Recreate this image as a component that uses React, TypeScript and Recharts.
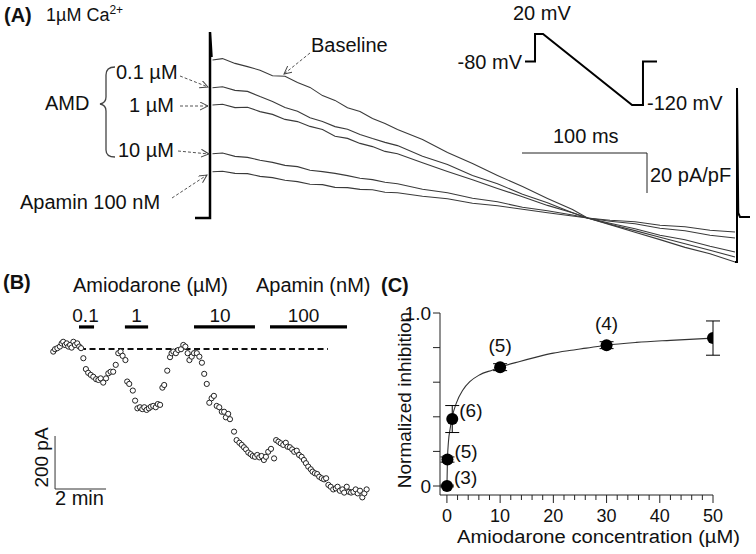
import React from 'react';
import { LineChart, Line, XAxis, YAxis, ReferenceLine, ScatterChart, Scatter, ComposedChart, ErrorBar } from 'recharts';

const FONT = '"Liberation Sans", Arial, Helvetica, sans-serif';

// ---------- Panel A: ramp currents (pA/pF) vs time (ms)
const TRACE_TIME_MS = [2, 10, 20, 30, 40, 50, 60, 70, 80, 90, 100, 110, 120, 130, 140, 150, 170, 190, 210, 230, 250, 270, 290, 302, 320, 340, 360, 380, 400, 420];
const BASELINE = [78.5, 79.2, 76.8, 75.2, 73.4, 70.6, 70.4, 67.2, 64.8, 60.7, 58.3, 54.6, 52.8, 49.2, 46.8, 43.7, 38.8, 32.2, 26.7, 20.8, 15.2, 9.3, 3.7, -0.5, -3.8, -7.6, -11.3, -15.2, -18.4, -22.5];
const AMD_01 = [64.6, 65.1, 63.3, 62.8, 60.2, 57.8, 54.7, 52.9, 49.6, 47.8, 45.2, 43.9, 41.3, 39.2, 37.3, 35.7, 30.4, 26.2, 20.8, 16.6, 11.4, 7.1, 2.1, -0.5, -3.6, -6.8, -10.1, -13.4, -16.6, -20];
const AMD_1 = [56, 56.4, 54.7, 54.9, 52.7, 51.3, 48.8, 47.7, 45.3, 43.8, 40.4, 39.3, 36.8, 35.2, 32.8, 31.6, 27.1, 22.8, 18.6, 14.3, 10.1, 5.8, 2.1, -0.5, -3.1, -5.9, -9.1, -11.4, -14.6, -17.5];
const AMD_10 = [31.6, 32, 30.3, 29.8, 28.4, 27.3, 25.8, 25.2, 23.4, 22.7, 21.8, 20.7, 19.4, 18.7, 17.4, 16.6, 13.9, 12.1, 9.4, 7.6, 4.9, 3.1, 1.0, -0.5, -2.1, -3.4, -5.6, -6.9, -9.1, -10.5];
const APAMIN = [22.6, 22.9, 21.8, 21.7, 20.3, 19.7, 18.4, 17.7, 16.4, 16.2, 14.8, 14.7, 13.8, 13.6, 12.4, 12.1, 10.4, 9.1, 6.9, 5.6, 3.9, 2.1, 0.5, -0.5, -1.6, -2.4, -4.1, -4.9, -6.6, -7.5];

// capacitive transients
const ON_SPIKE_T = [-12, 0, 0, 1.2];
const ON_SPIKE_I = [-0.5, -0.5, 92.5, 80];
const OFF_SPIKE_T = [420, 421.6, 421.6, 422.6, 424, 432];
const OFF_SPIKE_I = [-22.5, -22.5, 64.5, 2, 0, 0];

// scale bar (100 ms, 20 pA/pF)
const SCALE_A_T0 = 249.6;
const SCALE_A_I0 = 32;
const SCALE_A_MS = 100;
const SCALE_A_PAPF = 20;

// voltage protocol (schematic)
const PROTO_T = [0, 45, 45, 81, 481, 530, 530, 593];
const PROTO_MV = [-80, -80, 20, 20, -120, -120, -80, -80];

// ---------- Panel B: current (pA) vs time (min)
const B_TIME_MIN = [0.01, 0.08, 0.17, 0.27, 0.34, 0.40, 0.47, 0.54, 0.60, 0.67, 0.73, 0.80, 0.86, 0.95, 1.03, 1.10,
  1.19, 1.29, 1.38, 1.48, 1.58, 1.69, 1.78, 1.87, 1.97, 2.08, 2.17, 2.26, 2.36, 2.46, 2.56, 2.65, 2.73, 2.84,
  2.91, 2.99, 3.13, 3.22, 3.31, 3.41, 3.50, 3.58, 3.67, 3.76, 3.84, 3.93, 4.03, 4.11, 4.20,
  4.29, 4.36, 4.48, 4.59, 4.65, 4.72, 4.82, 4.91, 5.02, 5.11, 5.19, 5.28, 5.35, 5.44, 5.53, 5.64,
  5.74, 5.84, 5.93, 6.03, 6.13, 6.22, 6.31, 6.42, 6.52, 6.62, 6.71, 6.78, 6.87, 6.94, 7.10, 7.20, 7.31, 7.40, 7.49, 7.57, 7.66, 7.75, 7.83, 7.92, 8.01, 8.09, 8.18, 8.27, 8.35, 8.44, 8.55, 8.67,
  8.75, 8.84, 8.93, 9.03, 9.13, 9.20, 9.29, 9.38, 9.46, 9.56, 9.65, 9.75, 9.84, 9.92, 10.01, 10.11, 10.18, 10.27, 10.36, 10.44, 10.54, 10.63, 10.71, 10.80, 10.89, 10.99, 11.09, 11.16, 11.25, 11.35, 11.42, 11.52, 11.61, 11.69, 11.78, 11.87, 11.95, 12.04, 12.13, 12.21, 12.30];
const B_CURRENT_PA = [560, 569, 573, 579, 591, 597, 585, 591, 579, 585, 575, 597, 585, 591, 579, 573,
  535, 494, 480, 472, 465, 456, 453, 459, 443, 459, 478, 484, 484, 510, 554, 560, 544, 528,
  447, 438, 413, 375, 346, 350, 343, 350, 340, 346, 352, 355, 350, 362, 359,
  424, 434, 488, 539, 554, 560, 554, 566, 569, 585, 579, 554, 528, 541, 554, 554,
  541, 518, 476, 438, 367, 384, 393, 355, 350, 333, 333, 312, 325, 305, 258, 226, 216, 208, 199, 191, 179, 173, 166, 163, 170, 161, 166, 151, 163, 182, 193, 157,
  226, 220, 214, 208, 216, 201, 199, 191, 182, 186, 170, 163, 151, 139, 126, 116, 107, 101, 98, 88, 82, 78, 82, 57, 50, 40, 44, 50, 35, 40, 28, 50, 31, 28, 31, 40, 25, 35, 10, 25, 40];

const DRUG_LABELS = ['0.1', '1', '10', '100'];
const DRUG_START_MIN = [1.02, 2.82, 5.53, 8.51];
const DRUG_END_MIN = [1.61, 3.73, 7.92, 11.53];
const DRUG_BAR_PA = 653;
const CONTROL_LEVEL_PA = 570;
const CONTROL_LINE_MIN = [1.06, 10.78];
const SCALE_B_T0 = 0.08;
const SCALE_B_I0 = 41.5;
const SCALE_B_PA = 200;
const SCALE_B_MIN = 2;

// ---------- Panel C: dose response
const DOSE_UM = [0.01, 0.1, 1, 10, 30, 50];
const INHIBITION = [0, 0.153, 0.387, 0.687, 0.814, 0.855];
const SEM = [0.005, 0.015, 0.078, 0.02, 0.02, 0.099];
const N_CELLS = [3, 5, 6, 5, 4, 3];
const FIT_X = [0.01, 0.1, 0.3, 0.6, 1, 1.75, 3, 4.3, 6.1, 8.6, 10, 13.7, 16.8, 20, 23, 26.2, 30, 35.6, 42, 50];
const FIT_Y = [0.01, 0.15, 0.26, 0.33, 0.4, 0.478, 0.555, 0.603, 0.642, 0.671, 0.687, 0.72, 0.745, 0.768, 0.783, 0.797, 0.814, 0.83, 0.842, 0.855];
const C_X_TICKS = [0, 2, 4, 6, 8, 10, 12, 14, 16, 18, 20, 22, 24, 26, 28, 30, 32, 34, 36, 38, 40, 42, 44, 46, 48, 50];
const C_Y_TICKS = [0, 0.2, 0.4, 0.6, 0.8, 1.0];

// ---------- data tables
const traceRows = TRACE_TIME_MS.map((t, i) => ({ t, base: BASELINE[i], a01: AMD_01[i], a1: AMD_1[i], a10: AMD_10[i], apa: APAMIN[i] }));
const onSpikeRows = ON_SPIKE_T.map((t, i) => ({ t, onI: ON_SPIKE_I[i] }));
const offSpikeRows = OFF_SPIKE_T.map((t, i) => ({ t, offI: OFF_SPIKE_I[i] }));
const protoRows = PROTO_T.map((t, i) => ({ t, mv: PROTO_MV[i] }));
const bRows = B_TIME_MIN.map((t, i) => ({ t, i: B_CURRENT_PA[i] }));
const cRows = DOSE_UM.map((x, i) => ({ x, y: INHIBITION[i], err: SEM[i], n: N_CELLS[i] }));
const cLabelRows = cRows.map((r) => ({ x: r.x, y: r.x < 5 ? r.y : r.y + r.err, n: r.n, side: r.x < 5 }));
const fitRows = FIT_X.map((x, i) => ({ x, y: FIT_Y[i] }));

// piecewise-linear (schematic) scale for the voltage protocol
function makeKneeScale(knotsV: number[], knotsF: number[]): any {
  let dom: number[] = [knotsV[0], knotsV[knotsV.length - 1]];
  let rng: number[] = [0, 1];
  const frac = (v: number) => {
    for (let k = 0; k < knotsV.length - 1; k++) {
      const a = knotsV[k];
      const b = knotsV[k + 1];
      if (v <= b || k === knotsV.length - 2) {
        return knotsF[k] + ((v - a) / (b - a)) * (knotsF[k + 1] - knotsF[k]);
      }
    }
    return 0;
  };
  const s: any = (v: number) => rng[0] + frac(v) * (rng[1] - rng[0]);
  s.domain = (d?: number[]) => {
    if (d === undefined) return dom.slice();
    dom = d.slice();
    return s;
  };
  s.range = (r?: number[]) => {
    if (r === undefined) return rng.slice();
    rng = r.slice();
    return s;
  };
  s.copy = () => makeKneeScale(knotsV, knotsF).domain(dom).range(rng);
  s.ticks = () => knotsV.slice();
  s.tickFormat = () => (v: number) => String(v);
  return s;
}
const protoScale = makeKneeScale([-120, -80, 20], [0, 0.613, 1]);

const OpenCircle = (p: any) => <circle cx={p.cx} cy={p.cy} r={2.6} fill="#fff" stroke="#222" strokeWidth={1} />;
const FilledDot = (p: any) => <circle cx={p.cx} cy={p.cy} r={6} fill="#000" />;
const CountLabel = (p: any) => {
  const d = p.payload || {};
  if (d.side) {
    return <text x={p.cx + 7} y={p.cy - 2} fontFamily={FONT} fontSize={19} fill="#111">({d.n})</text>;
  }
  return <text x={p.cx} y={p.cy - 12} textAnchor="middle" fontFamily={FONT} fontSize={19} fill="#111">({d.n})</text>;
};
const XTick = (p: any) => {
  const v = p.payload?.value;
  const major = v % 10 === 0;
  return (
    <g>
      <line x1={p.x} x2={p.x} y1={p.y} y2={p.y + (major ? 8 : 5)} stroke="#222" strokeWidth={1} />
      {major ? (
        <text x={p.x} y={p.y + 27} textAnchor="middle" fontFamily={FONT} fontSize={18} fill="#111">{v}</text>
      ) : null}
    </g>
  );
};

const abs = (left: number, top: number): React.CSSProperties => ({ position: 'absolute', left, top });

const TRACE_COLOR = '#3a3a3a';

export default function App() {
  return (
    <div style={{ position: 'absolute', left: 0, top: 0, width: 756, height: 554, background: '#fff', overflow: 'hidden', fontFamily: FONT }}>
      {/* Panel A traces */}
      <div style={abs(0, 0)}>
        <LineChart width={756} height={270} margin={{ top: 0, right: 0, bottom: 0, left: 0 }}>
          <XAxis dataKey="t" type="number" domain={[-168, 436.8]} hide allowDataOverflow />
          <YAxis type="number" domain={[-26.5, 108.5]} hide allowDataOverflow />
          <Line data={traceRows} dataKey="base" stroke={TRACE_COLOR} strokeWidth={1.1} dot={false} activeDot={false} isAnimationActive={false} />
          <Line data={traceRows} dataKey="a01" stroke={TRACE_COLOR} strokeWidth={1.1} dot={false} activeDot={false} isAnimationActive={false} />
          <Line data={traceRows} dataKey="a1" stroke={TRACE_COLOR} strokeWidth={1.1} dot={false} activeDot={false} isAnimationActive={false} />
          <Line data={traceRows} dataKey="a10" stroke={TRACE_COLOR} strokeWidth={1.1} dot={false} activeDot={false} isAnimationActive={false} />
          <Line data={traceRows} dataKey="apa" stroke={TRACE_COLOR} strokeWidth={1.1} dot={false} activeDot={false} isAnimationActive={false} />
          <Line data={onSpikeRows} dataKey="onI" stroke="#000" strokeWidth={2.5} dot={false} activeDot={false} isAnimationActive={false} />
          <Line data={offSpikeRows} dataKey="offI" stroke="#000" strokeWidth={2} dot={false} activeDot={false} isAnimationActive={false} />
          <ReferenceLine segment={[{ x: SCALE_A_T0, y: SCALE_A_I0 }, { x: SCALE_A_T0 + SCALE_A_MS, y: SCALE_A_I0 }]} stroke="#222" strokeWidth={1} ifOverflow="visible" />
          <ReferenceLine segment={[{ x: SCALE_A_T0 + SCALE_A_MS, y: SCALE_A_I0 }, { x: SCALE_A_T0 + SCALE_A_MS, y: SCALE_A_I0 - SCALE_A_PAPF }]} stroke="#222" strokeWidth={1} ifOverflow="visible" />
        </LineChart>
      </div>

      {/* voltage protocol inset */}
      <div style={abs(515, 24)}>
        <LineChart width={152} height={91} margin={{ top: 10, right: 10, bottom: 10, left: 10 }}>
          <XAxis dataKey="t" type="number" domain={[0, 593]} hide />
          <YAxis type="number" domain={[-120, 20]} scale={protoScale} hide />
          <Line data={protoRows} dataKey="mv" stroke="#000" strokeWidth={2} strokeLinejoin="miter" dot={false} activeDot={false} isAnimationActive={false} />
        </LineChart>
      </div>

      {/* Panel B */}
      <div style={abs(30, 300)}>
        <ScatterChart width={360} height={210} margin={{ top: 0, right: 0, bottom: 0, left: 0 }}>
          <XAxis dataKey="t" type="number" domain={[-0.902, 13.216]} hide allowDataOverflow />
          <YAxis dataKey="i" type="number" domain={[-37.7, 754.7]} hide allowDataOverflow />
          <ReferenceLine segment={[{ x: CONTROL_LINE_MIN[0], y: CONTROL_LEVEL_PA }, { x: CONTROL_LINE_MIN[1], y: CONTROL_LEVEL_PA }]} stroke="#111" strokeWidth={2} strokeDasharray="6 3.5" ifOverflow="visible" />
          {DRUG_LABELS.map((lab, k) => (
            <ReferenceLine key={lab} segment={[{ x: DRUG_START_MIN[k], y: DRUG_BAR_PA }, { x: DRUG_END_MIN[k], y: DRUG_BAR_PA }]} stroke="#000" strokeWidth={3.2} ifOverflow="visible" />
          ))}
          <ReferenceLine segment={[{ x: SCALE_B_T0, y: SCALE_B_I0 }, { x: SCALE_B_T0, y: SCALE_B_I0 + SCALE_B_PA }]} stroke="#333" strokeWidth={1} ifOverflow="visible" />
          <ReferenceLine segment={[{ x: SCALE_B_T0, y: SCALE_B_I0 }, { x: SCALE_B_T0 + SCALE_B_MIN, y: SCALE_B_I0 }]} stroke="#333" strokeWidth={1} ifOverflow="visible" />
          <Scatter data={bRows} shape={OpenCircle} isAnimationActive={false} />
        </ScatterChart>
      </div>

      {/* Panel C */}
      <div style={abs(370, 290)}>
        <ComposedChart width={386} height={264} margin={{ top: 23, right: 43, bottom: 0, left: 0 }}>
          <XAxis dataKey="x" type="number" domain={[-1.3, 50]} ticks={C_X_TICKS} interval={0} tick={<XTick />} tickLine={false} tickSize={0} tickMargin={0} height={59} axisLine={{ stroke: '#222' }} allowDataOverflow />
          <YAxis dataKey="y" type="number" domain={[-0.052, 1]} ticks={C_Y_TICKS} interval={0} width={70} tickSize={7} tickLine={{ stroke: '#222' }} axisLine={{ stroke: '#222' }}
            tickFormatter={(v: number) => (v === 0 ? '0' : v === 1 ? '1.0' : '')} tick={{ fontSize: 19, fill: '#111', fontFamily: FONT }} allowDataOverflow />
          <Line data={fitRows} dataKey="y" type="monotone" stroke="#333" strokeWidth={1.1} dot={false} activeDot={false} isAnimationActive={false} />
          <Scatter data={cRows} dataKey="y" shape={FilledDot} isAnimationActive={false}>
            <ErrorBar dataKey="err" direction="y" width={7} stroke="#000" strokeWidth={1} />
          </Scatter>
          <Scatter data={cLabelRows} dataKey="y" shape={CountLabel} isAnimationActive={false} />
        </ComposedChart>
      </div>

      {/* annotations */}
      <svg width={756} height={554} style={{ position: 'absolute', left: 0, top: 0, pointerEvents: 'none' }} fontFamily={FONT}>
        <defs>
          <marker id="arr" markerUnits="userSpaceOnUse" markerWidth="10" markerHeight="10" refX="8" refY="4" orient="auto">
            <path d="M0,0 L8,4 L0,8" fill="none" stroke="#444" strokeWidth="1" />
          </marker>
        </defs>
        <g fill="#111" fontSize={20}>
          <text x={4} y={22} fontWeight="bold">(A)</text>
          <text x={46} y={21} fontSize={18}>1µM Ca<tspan fontSize={12} dy={-7}>2+</tspan></text>
          <text x={311} y={52}>Baseline</text>
          <text x={45} y={110}>AMD</text>
          <text x={116} y={79}>0.1 µM</text>
          <text x={129} y={112}>1 µM</text>
          <text x={118} y={157}>10 µM</text>
          <text x={20} y={209}>Apamin 100 nM</text>
          <text x={513} y={20}>20 mV</text>
          <text x={522} y={69} textAnchor="end">-80 mV</text>
          <text x={647} y={110}>-120 mV</text>
          <text x={553} y={143}>100 ms</text>
          <text x={650} y={182}>20 pA/pF</text>

          <text x={3} y={289} fontWeight="bold">(B)</text>
          <text x={73} y={292}>Amiodarone (µM)</text>
          <text x={256} y={292}>Apamin (nM)</text>
          <text x={85.5} y={322} textAnchor="middle" fontSize={19}>{DRUG_LABELS[0]}</text>
          <text x={136.5} y={322} textAnchor="middle" fontSize={19}>{DRUG_LABELS[1]}</text>
          <text x={220} y={322} textAnchor="middle" fontSize={19}>{DRUG_LABELS[2]}</text>
          <text x={303.5} y={322} textAnchor="middle" fontSize={19}>{DRUG_LABELS[3]}</text>
          <text transform="translate(48,457.5) rotate(-90)" textAnchor="middle" fontSize={19}>200 pA</text>
          <text x={55} y={505}>2 min</text>

          <text x={381} y={292} fontWeight="bold">(C)</text>
          <text transform="translate(411,400) rotate(-90)" textAnchor="middle" fontSize={19}>Normalized inhibition</text>
          <text x={457} y={543} fontSize={18} textLength={283} lengthAdjust="spacingAndGlyphs">Amiodarone concentration (µM)</text>
        </g>
        <path d="M115,67 Q106,67 106,75 L106,97 Q106,103 100,104 Q106,105 106,111 L106,150 Q106,157 115,157" fill="none" stroke="#444" strokeWidth={1.3} />
        <g stroke="#555" strokeWidth={1} strokeDasharray="3 2" fill="none">
          <line x1={180} y1={76} x2={208} y2={87} markerEnd="url(#arr)" />
          <line x1={180} y1={106} x2={208} y2={106} markerEnd="url(#arr)" />
          <line x1={178} y1={151} x2={209} y2={154} markerEnd="url(#arr)" />
          <line x1={172} y1={198} x2={207} y2={175} markerEnd="url(#arr)" />
          <line x1={310} y1={53} x2={284} y2={74} markerEnd="url(#arr)" />
        </g>
      </svg>
    </div>
  );
}
